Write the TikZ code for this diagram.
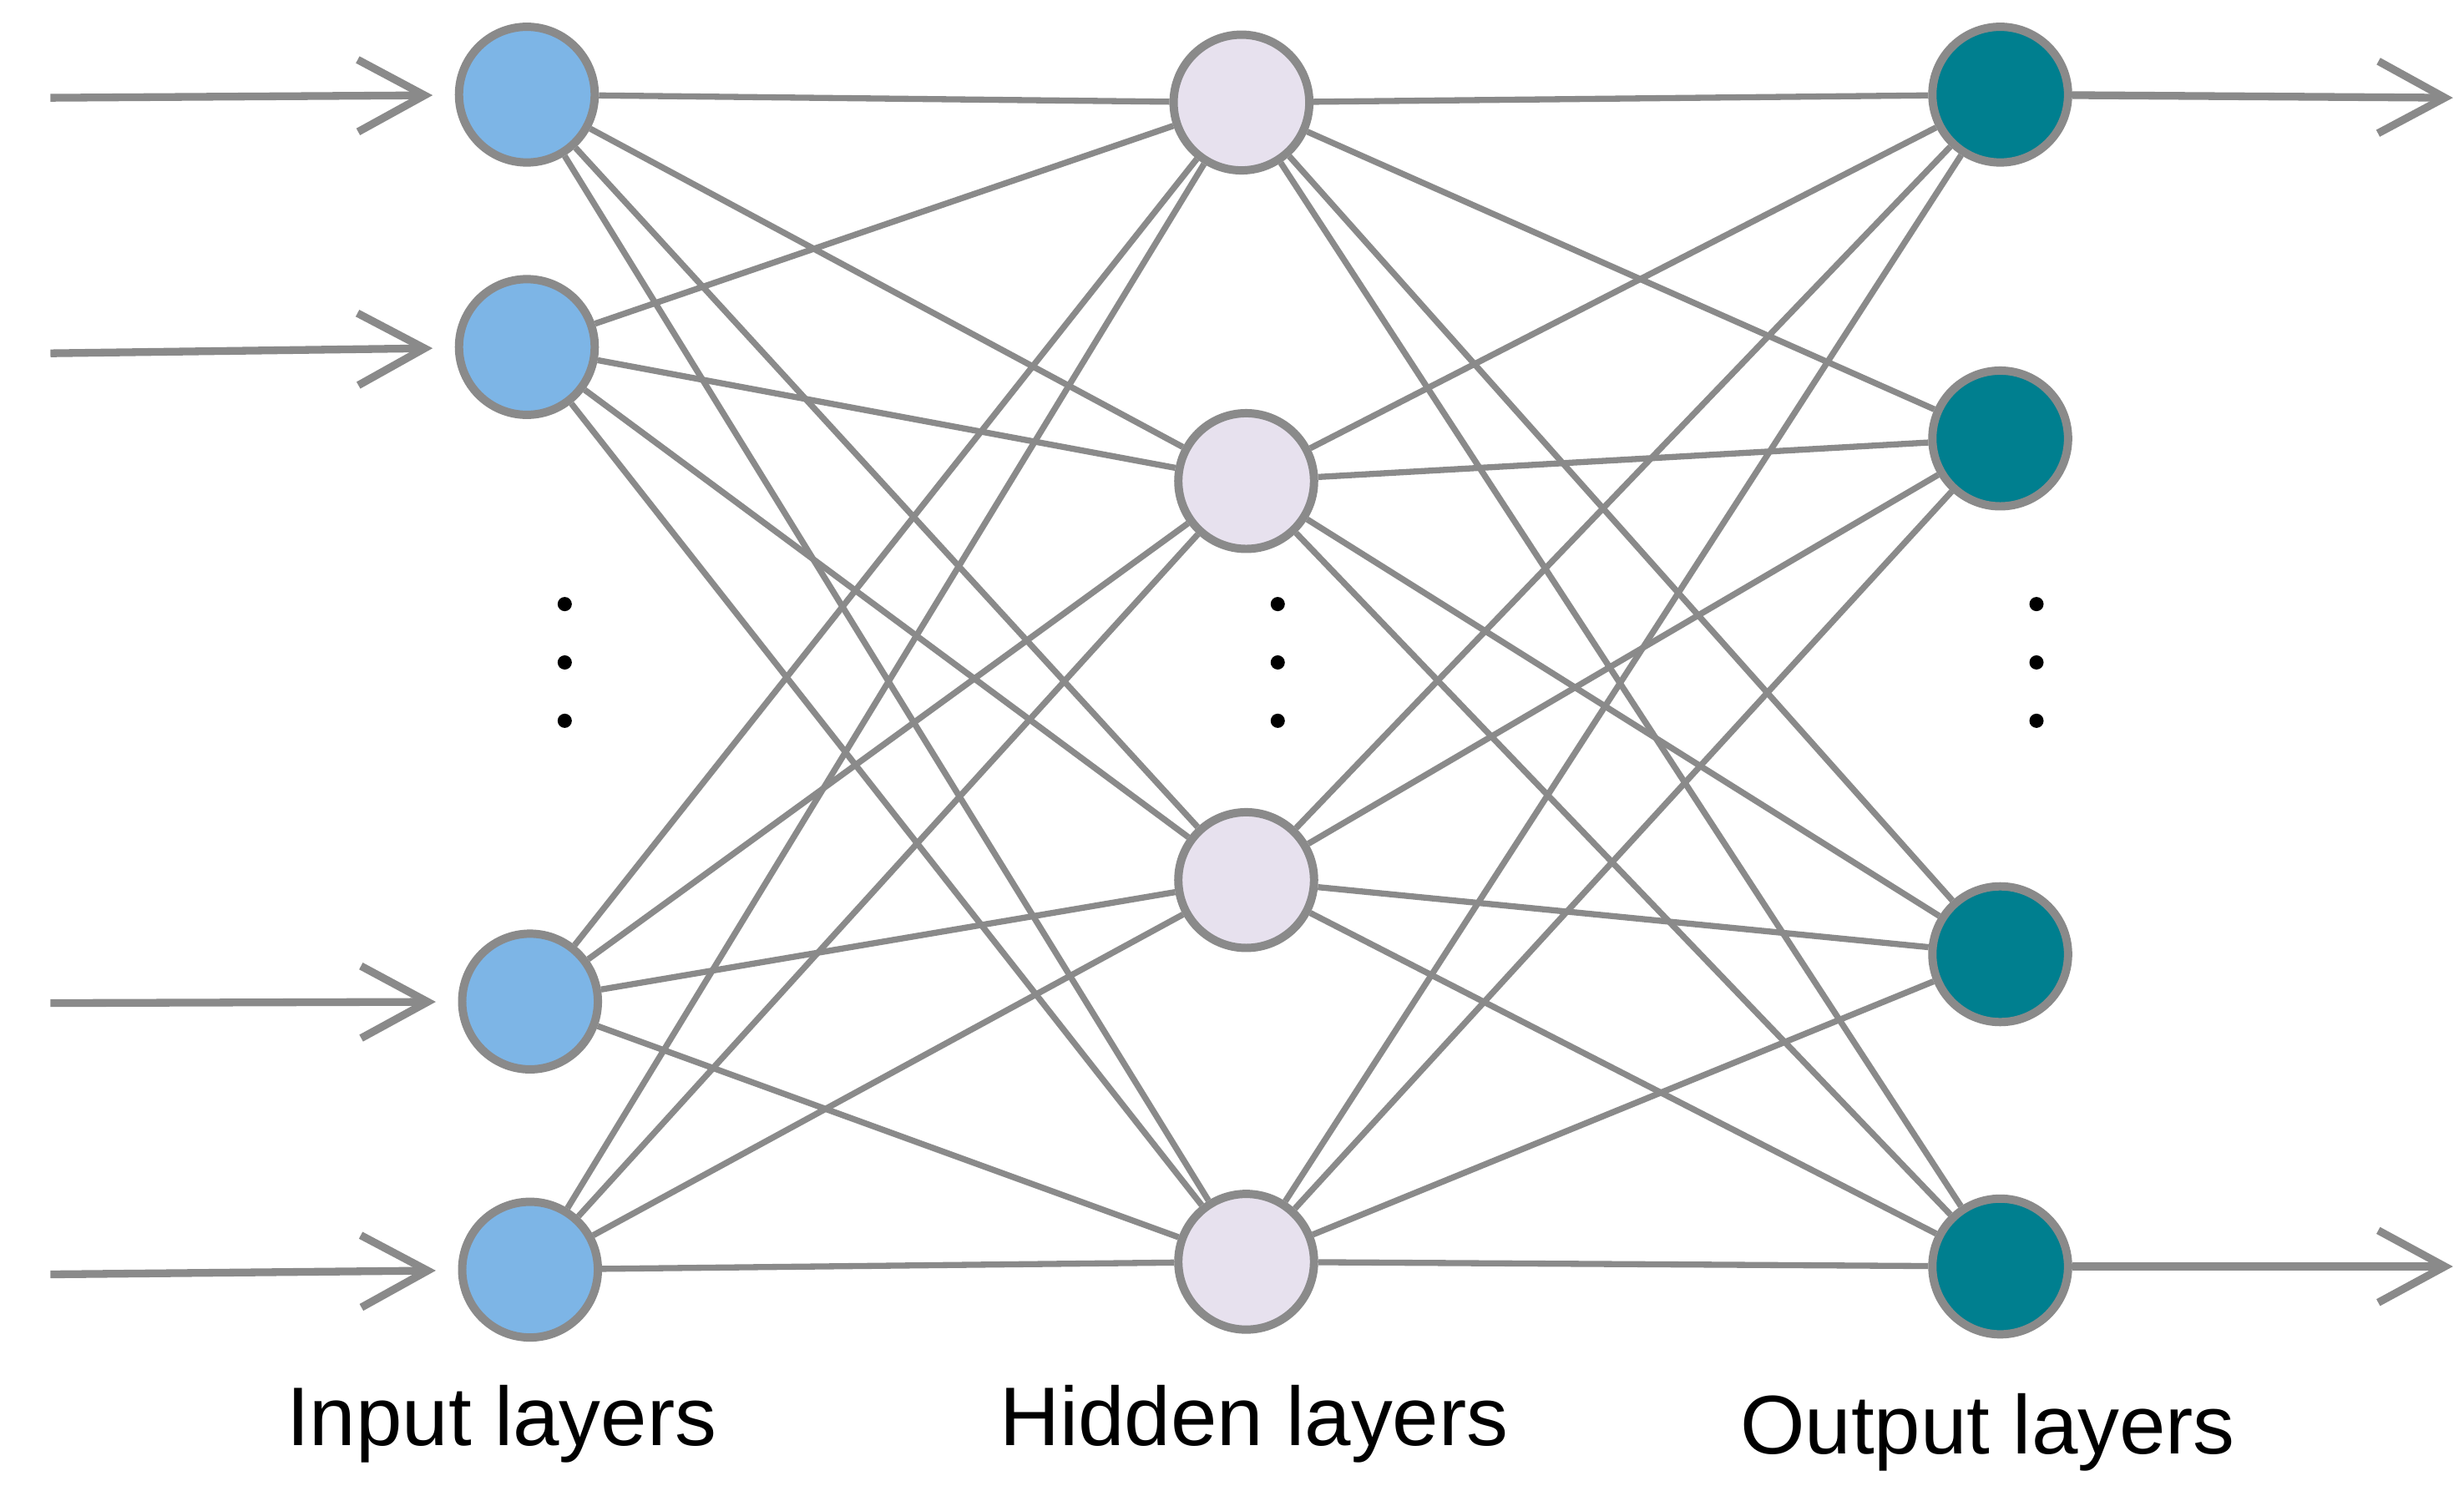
\documentclass[tikz,border=0pt]{standalone}
\usepackage{fontspec}
\setmainfont{Liberation Sans}
\usetikzlibrary{arrows.meta}
\definecolor{ln}{HTML}{8A8A8A}
\definecolor{cin}{HTML}{7DB5E6}
\definecolor{chid}{HTML}{E7E1EE}
\definecolor{cout}{HTML}{007F8F}
\begin{document}
\begin{tikzpicture}[x=0.01cm,y=-0.01cm,
  neuron/.style={circle,draw=ln,line width=1.5pt,minimum size=0.86cm,inner sep=0pt},
  conn/.style={draw=ln,line width=1.1pt},
  io/.style={draw=ln,line width=1.4pt,-{Straight Barb[length=12pt,width=13pt,line width=1.4pt]}},
  dot/.style={circle,fill=black,inner sep=0pt,minimum size=0.09cm},
  lab/.style={font=\fontsize{15}{18}\selectfont}]
\useasboundingbox (0,0) rectangle (1562,942);
\foreach \n/\x/\y in {1/334/60,2/334/220,3/336/635,4/336/805}
  \node[neuron,fill=cin] (i\n) at (\x,\y) {};
\foreach \n/\x/\y in {1/787/65,2/790/305,3/790/558,4/790/800}
  \node[neuron,fill=chid] (h\n) at (\x,\y) {};
\foreach \n/\x/\y in {1/1268/60,2/1268/278,3/1268/605,4/1268/803}
  \node[neuron,fill=cout] (o\n) at (\x,\y) {};
\foreach \a in {1,...,4}
  \foreach \b in {1,...,4} {
    \draw[conn] (i\a) -- (h\b);
    \draw[conn] (h\a) -- (o\b);
  }
\foreach \n/\y in {1/62,2/224,3/636,4/808} {
  \coordinate (s\n) at (32,\y);
  \draw[io,shorten >=4pt] (s\n) -- (i\n);
}
\coordinate (e1) at (1555,62);
\coordinate (e4) at (1555,803);
\draw[io] (o1) -- (e1);
\draw[io] (o4) -- (e4);
\foreach \x/\k in {358/a,810/b,1291/c}
  \foreach \y/\m in {383/1,420/2,457/3}
    \node[dot] (d\k\m) at (\x,\y) {};
\node[lab] (li) at (318,903) {Input layers};
\node[lab] (lh) at (795,903) {Hidden layers};
\node[lab] (lo) at (1260,908) {Output layers};
\end{tikzpicture}
\end{document}
